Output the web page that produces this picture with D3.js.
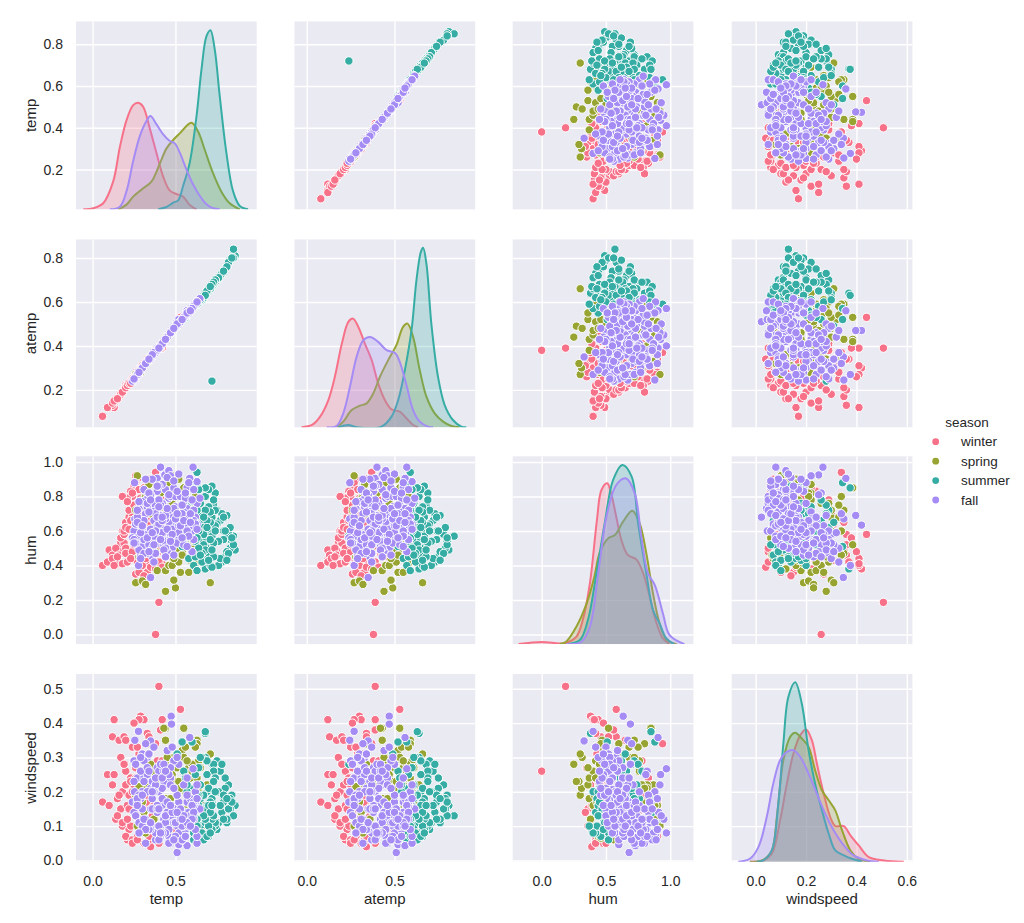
<!DOCTYPE html>
<html><head><meta charset="utf-8">
<script src="https://cdn.jsdelivr.net/npm/d3@7"></script>
<style>html,body{margin:0;padding:0;background:#fff}svg{display:block}text{font-family:"Liberation Sans",Arial,sans-serif;fill:#262626}</style>
</head><body><svg id="c" width="1024" height="923"></svg>
<script>
const seasons=["winter","spring","summer","fall"];
const seasonColors=["#f77189","#97a431","#36ada4","#a48cf4"];
const variables=["temp","atemp","hum","windspeed"];

// ---- scatter values
const winterTemp=[.38,.40,.06, .10,.13,.12,.15,.09,.16,.17,.12,.18,.14,.19,.16,.18,.20,.17,.13,.19,.15,.21,.20, .19,.20,.22,.24,.25,.26,.27,.23,.21,.18,.22,.26,.28,.24,.20,.25,.29,.23,.27,.30,.21,.26,.24,.28,.22, .29,.31,.28,.33,.36,.42,.53,.30,.27,.34,.25,.41, .24,.27,.30,.33,.28,.26,.31,.35,.38,.40,.43,.36,.29,.32,.42,.45,.34,.37,.25,.30,.41,.47,.28,.33,.39,.44,.23,.35,.27,.31, .38,.33,.36,.40,.44,.31,.35,.42,.46,.30,.37,.48,.41,.34,.39];
const winterAtemp=[.38,.39,.08, .12,.12,.13,.16,.12,.17,.18,.14,.19,.16,.20,.17,.19,.22,.18,.15,.20,.16,.22,.21, .20,.21,.23,.25,.26,.27,.28,.24,.22,.19,.23,.27,.29,.25,.21,.26,.30,.24,.28,.31,.22,.27,.25,.29,.23, .30,.31,.27,.34,.35,.39,.53,.31,.28,.34,.26,.39, .25,.28,.30,.33,.28,.26,.31,.34,.37,.39,.42,.35,.29,.32,.41,.44,.33,.36,.25,.30,.39,.46,.28,.33,.38,.43,.23,.34,.27,.31, .37,.33,.36,.39,.43,.32,.35,.41,.45,.31,.37,.47,.40,.34,.38];
const winterHum=[0,.186,.40, .49,.43,.46,.41,.42,.49,.53,.44,.41,.50,.53,.46,.60,.50,.56,.40,.58,.45,.42,.47, .60,.65,.68,.80,.86,.92,.90,.83,.79,.80,.72,.88,.84,.68,.62,.75,.79,.66,.73,.70,.77,.62,.82,.64,.61, .38,.40,.44,.42,.46,.41,.58,.43,.50,.52,.48,.56, .48,.42,.40,.36,.55,.35,.50,.39,.38,.42,.47,.58,.62,.44,.39,.52,.55,.60,.52,.58,.63,.45,.36,.64,.50,.56,.44,.65,.60,.34, .94,.80,.73,.66,.70,.85,.68,.78,.67,.74,.88,.72,.82,.90,.76];
const winterWind=[.26,.507,.17, .16,.41,.36,.18,.25,.35,.30,.22,.20,.12,.28,.19,.10,.26,.15,.25,.36,.13,.06,.22, .28,.35,.19,.20,.22,.13,.17,.24,.16,.11,.09,.16,.08,.33,.07,.14,.19,.10,.20,.30,.12,.24,.06,.31,.15, .42,.41,.41,.37,.34,.41,.44,.31,.33,.36,.40,.38, .05,.07,.09,.15,.12,.27,.05,.04,.22,.05,.18,.08,.11,.20,.16,.28,.06,.13,.22,.24,.07,.25,.10,.17,.29,.09,.23,.19,.06,.14, .34,.19,.13,.25,.18,.22,.08,.29,.14,.11,.16,.09,.21,.07,.27];

const springTemp=[.26,.30,.32,.44,.50,.49,.53,.71,.39,.44,.46,.48,.52,.61,.62,.58, .27,.34,.30,.36,.41,.44,.33,.38,.43,.37,.29,.35,.40,.31,.42,.45,.28,.39,.32,.34,.44,.26, .46,.48,.50,.52,.55,.57,.60,.62,.64,.58,.47,.51,.53,.56,.59,.61,.63,.65,.49,.54,.57,.60,.62,.50,.52,.55,.58,.60,.63,.66,.48,.53,.56,.59,.61,.64,.67,.51,.54,.57,.60,.63,.66,.69,.62];
const springAtemp=[.27,.30,.32,.44,.49,.48,.52,.66,.38,.43,.45,.47,.51,.57,.58,.55, .27,.33,.30,.35,.40,.43,.33,.37,.42,.36,.28,.34,.39,.31,.41,.44,.28,.38,.32,.34,.43,.26, .45,.47,.49,.51,.53,.55,.57,.58,.60,.55,.46,.50,.51,.54,.56,.58,.59,.61,.48,.52,.55,.57,.58,.49,.51,.53,.56,.57,.59,.62,.47,.52,.54,.56,.58,.60,.62,.50,.52,.55,.57,.59,.62,.64,.58];
const springHum=[.30,.31,.29,.25,.27,.315,.36,.30,.37,.37,.40,.40,.42,.42,.38,.36, .92,.87,.78,.76,.82,.85,.50,.48,.52,.62,.65,.70,.58,.55,.74,.68,.45,.90,.80,.60,.47,.72, .88,.92,.82,.90,.85,.78,.88,.80,.76,.74,.70,.66,.60,.55,.62,.68,.72,.58,.44,.48,.52,.45,.41,.56,.64,.72,.58,.50,.46,.60,.76,.80,.68,.43,.54,.66,.52,.50,.46,.60,.70,.42,.47,.55,.75];
const springWind=[.19,.21,.23,.28,.23,.30,.22,.31,.24,.18,.26,.16,.29,.20,.12,.27, .10,.22,.17,.26,.22,.385,.255,.21,.385,.12,.19,.28,.24,.14,.09,.30,.215,.16,.08,.34,.35,.13, .16,.25,.21,.14,.385,.22,.12,.34,.29,.10,.18,.13,.30,.20,.24,.17,.35,.27,.07,.32,.15,.28,.19,.06,.23,.30,.12,.26,.34,.16,.11,.21,.33,.17,.09,.20,.14,.27,.065,.29,.18,.24,.10,.22,.33];

const summerTemp=[.72, .86,.85,.84,.83,.82,.81,.80,.79,.78,.77,.76,.75,.85,.83,.81,.79,.77,.75,.82,.80,.78,.76,.84,.81,.79, .74,.73,.72,.71,.70,.69,.68,.67,.66,.65,.74,.73,.72,.71,.70,.69,.68,.67,.66,.65,.74,.72,.70,.68,.66,.73,.71,.69,.67,.65,.72,.70,.68,.66,.74,.71,.69,.67,.73,.70,.68,.72,.69,.71,.67, .63,.60,.68,.58,.56,.64,.61,.59,.63,.55,.53,.60,.62,.64,.57,.51,.58,.61,.63,.56,.60,.64,.62,.59,.57,.63,.54,.61,.65,.63];
const summerAtemp=[.24, .81,.84,.80,.79,.78,.76,.75,.74,.73,.72,.71,.70,.80,.79,.76,.74,.72,.70,.78,.75,.73,.71,.80,.76,.74, .69,.68,.67,.66,.65,.65,.64,.63,.62,.61,.70,.69,.67,.66,.66,.65,.64,.63,.61,.61,.69,.67,.66,.64,.62,.68,.66,.65,.63,.61,.67,.65,.64,.62,.70,.66,.65,.63,.69,.66,.64,.68,.65,.67,.62, .59,.57,.63,.55,.53,.60,.57,.56,.59,.52,.51,.57,.58,.60,.54,.49,.55,.57,.59,.53,.57,.60,.58,.56,.54,.59,.52,.57,.61,.59];
const summerHum=[.57, .49,.57,.54,.50,.58,.69,.45,.60,.42,.66,.40,.72,.52,.62,.48,.55,.44,.64,.47,.60,.70,.54,.56,.43,.68, .82,.75,.68,.60,.52,.44,.38,.48,.56,.64,.72,.78,.86,.40,.46,.50,.58,.62,.70,.54,.63,.57,.74,.80,.42,.45,.65,.55,.52,.76,.39,.84,.49,.47,.60,.71,.66,.58,.53,.43,.72,.49,.62,.55,.68, .94,.88,.85,.86,.80,.84,.77,.70,.72,.62,.55,.48,.54,.60,.58,.65,.44,.40,.37,.52,.62,.50,.45,.68,.74,.56,.51,.66,.46,.88];
const summerWind=[.28, .16,.13,.19,.15,.22,.11,.21,.17,.14,.26,.20,.29,.13,.18,.12,.19,.16,.09,.15,.24,.28,.11,.17,.18,.12, .10,.28,.17,.13,.08,.20,.37,.12,.15,.22,.11,.26,.18,.09,.07,.16,.30,.14,.19,.10,.24,.12,.21,.15,.08,.13,.17,.25,.06,.18,.09,.16,.11,.30,.20,.14,.07,.19,.23,.10,.12,.16,.29,.08,.13, .12,.345,.375,.14,.10,.19,.06,.21,.18,.26,.12,.09,.25,.16,.20,.31,.13,.08,.10,.24,.15,.27,.17,.11,.22,.19,.345,.13,.30,.07];

const fallTemp=[.474,.476,.277,.255,.51,.52,.57,.63,.41,.606,.39,.436,.46,.253,.35,.647,.63,.586,
.27,.33,.41,.48,.55,.30,.37,.44,.52,.60,.25,.35,.46,.58,
.29,.39,.50,.62,.32,.43,.54,.28,.36,.47,.57,.31,.40,.51,
.26,.34,.42,.49,.56,.61,.30,.38,.45,.53,.24,.33,.44,.59,
.28,.37,.48,.55,.35,.41,.52,.63,.29,.39,.46,.57,.32,.43,
.50,.27,.36,.47,.54,.60,.31,.40,.49,.34,.42,.56,.25,.38,
.45,.53,.30,.35,.44,.51,.58,.28,.41,.48,.33,.37,.55,.62,
.29,.43,.52,.39,.46,.32,.57,.26,.36,.50,.42,.34,.47,.59,
.31,.40,.54,.27,.45,.38,.49,.61,.33,.44,.56,.30,.37,.52,
.31,.36,.42,.47,.53,.58,.34,.40,.45,.51,.56,.61,.29,.38,.44,.49,.55,.60,.33,.41,.46,.52,.57,.62,.27,.35,.43,.48,.54,.59,.30,.39,.50,.56,.61,.25,.37,.45,.53,.58,.32,.42,.47,.55,.60,.28,.36,.44,.51,.57,.63,.34,.40,.49,.54,.59];
const fallAtemp=[.47,.47,.27,.245,.51,.52,.56,.60,.40,.57,.39,.43,.45,.245,.35,.615,.60,.56,
.27,.33,.40,.47,.53,.30,.36,.43,.50,.57,.25,.34,.45,.55,
.29,.38,.49,.59,.32,.42,.52,.28,.36,.46,.55,.31,.39,.49,
.26,.34,.41,.48,.54,.58,.30,.37,.44,.51,.24,.33,.43,.56,
.28,.37,.47,.53,.35,.40,.50,.60,.29,.38,.45,.55,.32,.42,
.49,.27,.36,.46,.52,.57,.31,.39,.48,.34,.41,.54,.25,.37,
.44,.51,.30,.35,.43,.49,.55,.28,.40,.47,.33,.37,.53,.59,
.29,.42,.50,.38,.45,.32,.55,.26,.36,.49,.41,.34,.46,.56,
.31,.39,.52,.27,.44,.37,.48,.58,.33,.43,.54,.30,.37,.50,
.31,.36,.41,.46,.51,.55,.34,.39,.44,.50,.54,.58,.29,.37,.43,.48,.53,.57,.33,.40,.45,.50,.55,.59,.27,.35,.42,.47,.52,.56,.30,.38,.49,.54,.58,.25,.37,.44,.51,.55,.32,.41,.46,.53,.57,.28,.36,.43,.50,.55,.60,.34,.39,.48,.52,.56];
const fallHum=[.634,.69,.40,.67,.68,.60,.73,.76,.97,.97,.905,.925,.95,.88,.33,.79,.886,.905,
.54,.58,.62,.68,.71,.48,.66,.74,.55,.65,.60,.50,.79,.69,
.52,.63,.72,.62,.70,.57,.60,.57,.45,.80,.85,.66,.53,.68,
.64,.82,.76,.60,.66,.72,.51,.74,.59,.64,.56,.47,.84,.57,
.73,.56,.50,.78,.61,.69,.81,.64,.46,.83,.65,.63,.78,.52,
.74,.68,.76,.58,.70,.60,.55,.64,.85,.52,.59,.62,.55,.70,
.48,.66,.62,.81,.67,.53,.69,.49,.75,.61,.74,.57,.77,.68,
.59,.54,.63,.68,.72,.83,.58,.53,.50,.80,.66,.71,.55,.63,
.47,.78,.70,.65,.61,.60,.73,.66,.56,.69,.64,.77,.52,.59,
.84,.90,.87,.92,.80,.88,.82,.86,.91,.83,.79,.84,.44,.47,.50,.46,.52,.48,.76,.55,.81,.93,.60,.64,.72,.78,.49,.58,.75,.70,.63,.86,.67,.82,.55,.53,.42,.73,.63,.57,.90,.68,.54,.66,.78,.77,.59,.45,.70,.51,.61,.48,.74,.89,.56,.65];
const fallWind=[.42,.397,.376,.35,.023,.046,.043,.05,.08,.267,.09,.25,.12,.20,.348,.15,.07,.358,
.24,.30,.10,.16,.22,.31,.09,.13,.28,.19,.14,.21,.07,.11,
.18,.27,.15,.20,.34,.12,.06,.08,.23,.05,.17,.24,.26,.10,
.13,.09,.16,.29,.14,.12,.20,.06,.32,.07,.17,.25,.11,.18,
.11,.21,.33,.08,.15,.28,.12,.22,.19,.14,.09,.24,.05,.26,
.13,.17,.10,.27,.07,.16,.23,.20,.06,.31,.18,.11,.29,.08,
.25,.12,.15,.09,.22,.30,.14,.19,.07,.13,.11,.20,.10,.17,
.26,.23,.08,.16,.05,.12,.19,.28,.15,.07,.21,.09,.24,.13,
.29,.10,.06,.18,.14,.22,.11,.16,.27,.08,.12,.10,.20,.17,
.12,.18,.08,.22,.15,.11,.26,.06,.14,.19,.09,.17,.30,.24,.13,.21,.10,.16,.20,.08,.25,.13,.12,.09,.16,.11,.28,.14,.10,.13,.19,.15,.11,.07,.14,.23,.33,.17,.12,.10,.09,.24,.16,.13,.12,.08,.20,.26,.14,.11,.18,.31,.15,.06,.12,.10];

// ---- density curves (arbitrary height units)
const kdeTempWinterX=[-.056,.004,.064,.124,.165,.205,.245,.275,.305,.345,.386,.426,.466,.506,.546,.586,.627];
const kdeTempWinterY=[0,.03,.18,.83,1.88,2.68,3.13,3.20,3.08,2.43,1.68,.98,.56,.46,.38,.13,0];
const kdeTempSpringX=[.155,.205,.245,.305,.355,.406,.446,.486,.526,.596,.637,.677,.727,.777,.827,.888];
const kdeTempSpringY=[0,.14,.38,.63,.83,1.38,1.83,2.08,2.28,2.60,2.33,1.78,1.08,.53,.18,0];
const kdeTempSummerX=[.396,.446,.486,.516,.546,.586,.627,.657,.687,.711,.737,.767,.807,.847,.888,.938];
const kdeTempSummerY=[0,.07,.2,.27,.7,1.4,2.8,4.2,5.2,5.38,4.8,3.4,1.7,.55,.1,0];
const kdeTempFallX=[.104,.165,.205,.245,.285,.325,.349,.386,.426,.466,.496,.526,.566,.606,.647,.687,.727,.767];
const kdeTempFallY=[0,.08,.55,1.45,2.2,2.65,2.80,2.55,2.25,2.05,1.98,1.70,1.2,.75,.4,.15,.03,0];

const kdeAtempWinterX=[-.03,.03,.076,.123,.16,.2,.237,.263,.294,.331,.37,.407,.445,.483,.53,.568,.606,.634];
const kdeAtempWinterY=[0,.07,.32,.82,1.52,2.52,3.17,3.27,3.02,2.52,2.02,1.32,.82,.54,.47,.27,.07,0];
const kdeAtempSpringX=[.17,.208,.256,.303,.341,.379,.417,.464,.511,.549,.574,.606,.644,.682,.729,.777,.824,.871];
const kdeAtempSpringY=[0,.17,.52,.65,.72,1.02,1.52,2.02,2.47,3.02,3.12,2.72,1.72,.92,.42,.17,.04,0];
const kdeAtempSummerX=[.18,.237,.284,.426,.483,.521,.559,.597,.625,.65,.663,.682,.71,.748,.786,.833,.881,.909];
const kdeAtempSummerY=[0,.07,0,.02,.32,.82,1.72,2.92,4.42,5.27,5.40,4.92,3.12,1.52,.67,.22,.02,0];
const kdeAtempFallX=[.114,.17,.208,.246,.284,.322,.36,.407,.455,.502,.53,.568,.606,.644,.691,.72];
const kdeAtempFallY=[0,.04,.42,1.22,2.12,2.62,2.72,2.57,2.32,2.24,1.97,1.27,.52,.17,.02,0];

const kdeHumWinterX=[-.18,0,.14,.19,.27,.32,.375,.43,.465,.51,.54,.58,.62,.67,.736,.79,.84,.89,.943,.995];
const kdeHumWinterY=[0,.06,.02,.04,.22,.72,1.82,3.72,4.62,4.82,4.52,3.82,3.12,2.67,2.54,2.12,1.42,.67,.17,0];
const kdeHumSpringX=[.14,.19,.27,.35,.41,.45,.517,.57,.633,.705,.762,.814,.866,.917,.97,1.05];
const kdeHumSpringY=[0,.07,.52,1.22,2.02,2.72,3.17,3.27,3.67,4.0,3.62,2.72,1.52,.62,.14,0];
const kdeHumSummerX=[.207,.297,.36,.426,.49,.556,.628,.70,.75,.814,.866,.917,.97,1.03];
const kdeHumSummerY=[0,.12,.72,2.12,3.62,4.92,5.37,5.02,3.62,2.12,1.02,.62,.17,0];
const kdeHumFallX=[.19,.31,.375,.44,.504,.58,.654,.724,.775,.827,.88,.943,.995,1.11];
const kdeHumFallY=[0,.07,.52,2.12,3.82,4.77,4.97,4.52,3.22,2.12,1.77,.92,.27,0];

const kdeWindWinterX=[-.023,.03,.064,.097,.124,.15,.177,.2,.223,.243,.27,.296,.316,.35,.376,.409,.449,.509,.588];
const kdeWindWinterY=[0,.04,.24,1.24,2.34,3.24,3.79,3.96,3.64,2.94,2.04,1.34,1.07,1.07,.79,.49,.14,.04,0];
const kdeWindSpringX=[-.023,.03,.064,.084,.11,.137,.157,.183,.21,.236,.263,.29,.316,.343,.376,.409,.455];
const kdeWindSpringY=[0,.06,.34,1.34,3.04,3.74,3.86,3.69,3.44,2.74,2.14,1.84,1.54,.94,.34,.09,0];
const kdeWindSummerX=[.004,.03,.064,.09,.11,.13,.157,.183,.21,.236,.263,.29,.316,.35,.382,.422];
const kdeWindSummerY=[0,.04,.34,1.74,3.54,4.94,5.37,4.74,3.34,2.34,1.54,.84,.34,.19,.09,0];
const kdeWindFallX=[-.069,-.023,.011,.044,.07,.097,.124,.15,.177,.21,.243,.276,.31,.35,.389,.442,.489];
const kdeWindFallY=[0,.09,.44,1.34,2.34,3.04,3.29,3.34,3.14,2.64,2.04,1.44,.94,.49,.19,.04,0];

// ---- tick labels
const xTickValues=[[0,.5],[0,.5],[0,.5,1],[0,.2,.4,.6]];
const yTickValues=[[.2,.4,.6,.8],[.2,.4,.6,.8],[0,.2,.4,.6,.8,1],[0,.1,.2,.3,.4,.5]];
// axis limits
const xDomains=[[-.1,.99],[-.07,.96],[-.225,1.18],[-.095,.622]];
const yDomains=[[.0096,.909],[.03,.884],[-.056,1.033],[-.004,.543]];
const kdeTops=[5.64,5.65,5.63,5.62];

const colLefts=[76,294.5,512.7,731.7], colWidth=180.7;
const rowTops=[21.5,239.5,456.3,674], rowHeight=187.8;

const scatter=[
 [winterTemp,winterAtemp,winterHum,winterWind],
 [springTemp,springAtemp,springHum,springWind],
 [summerTemp,summerAtemp,summerHum,summerWind],
 [fallTemp,fallAtemp,fallHum,fallWind]];
const kde=[
 [[kdeTempWinterX,kdeTempWinterY],[kdeTempSpringX,kdeTempSpringY],[kdeTempSummerX,kdeTempSummerY],[kdeTempFallX,kdeTempFallY]],
 [[kdeAtempWinterX,kdeAtempWinterY],[kdeAtempSpringX,kdeAtempSpringY],[kdeAtempSummerX,kdeAtempSummerY],[kdeAtempFallX,kdeAtempFallY]],
 [[kdeHumWinterX,kdeHumWinterY],[kdeHumSpringX,kdeHumSpringY],[kdeHumSummerX,kdeHumSummerY],[kdeHumFallX,kdeHumFallY]],
 [[kdeWindWinterX,kdeWindWinterY],[kdeWindSpringX,kdeWindSpringY],[kdeWindSummerX,kdeWindSummerY],[kdeWindFallX,kdeWindFallY]]];

const svg=d3.select("#c");
const defs=svg.append("defs");
const tickFont=14, labelFont=15;

variables.forEach((rowVar,r)=>{
  variables.forEach((colVar,c)=>{
    const x=d3.scaleLinear().domain(xDomains[c]).range([0,colWidth]);
    const y=d3.scaleLinear().domain(yDomains[r]).range([rowHeight,0]);
    const g=svg.append("g").attr("transform",`translate(${colLefts[c]},${rowTops[r]})`);
    g.append("rect").attr("width",colWidth).attr("height",rowHeight).attr("fill","#eaeaf2");
    const gx=g.append("g").attr("transform",`translate(0,${rowHeight})`)
      .call(d3.axisBottom(x).tickValues(xTickValues[c]).tickSize(-rowHeight).tickPadding(14).tickFormat(d3.format(".1f")));
    const gy=g.append("g")
      .call(d3.axisLeft(y).tickValues(yTickValues[r]).tickSize(-colWidth).tickPadding(13).tickFormat(d3.format(".1f")));
    [gx,gy].forEach(a=>{
      a.select(".domain").remove();
      a.selectAll("line").attr("stroke","#fff").attr("stroke-width",1.4);
      a.selectAll("text").style("font-size",tickFont+"px").style("font-family",'"Liberation Sans",Arial,sans-serif').attr("fill","#262626");
    });
    if(r!==3) gx.selectAll("text").remove();
    if(c!==0) gy.selectAll("text").remove();
    const id=`clip${r}${c}`;
    defs.append("clipPath").attr("id",id).append("rect").attr("width",colWidth).attr("height",rowHeight);
    const body=g.append("g").attr("clip-path",`url(#${id})`);
    if(r===c){
      const dy=d3.scaleLinear().domain([0,kdeTops[c]]).range([rowHeight,0]);
      seasons.forEach((s,i)=>{
        const [xs,ys]=kde[c][i];
        const pts=xs.map((v,k)=>[v,ys[k]]);
        body.append("path").datum(pts)
          .attr("d",d3.area().x(d=>x(d[0])).y0(rowHeight).y1(d=>dy(d[1])).curve(d3.curveCatmullRom))
          .attr("fill",seasonColors[i]).attr("fill-opacity",.25);
        body.append("path").datum(pts)
          .attr("d",d3.line().x(d=>x(d[0])).y(d=>dy(d[1])).curve(d3.curveCatmullRom))
          .attr("fill","none").attr("stroke",seasonColors[i]).attr("stroke-width",2);
      });
    } else {
      seasons.forEach((s,i)=>{
        const xv=scatter[i][c], yv=scatter[i][r];
        body.append("g").selectAll("circle").data(xv.map((v,k)=>[v,yv[k]])).join("circle")
          .attr("cx",d=>x(d[0])).attr("cy",d=>y(d[1])).attr("r",4.2)
          .attr("fill",seasonColors[i]).attr("stroke","#fff").attr("stroke-width",1);
      });
    }
  });
});

// axis labels
const axisLabels=["temp","atemp","hum","windspeed"];
axisLabels.forEach((t,c)=>{
  svg.append("text").attr("x",colLefts[c]+colWidth/2).attr("y",904).attr("text-anchor","middle").style("font-size",labelFont+"px").text(t);
  svg.append("text").attr("transform",`translate(36,${rowTops[c]+rowHeight/2}) rotate(-90)`).attr("text-anchor","middle").style("font-size",labelFont+"px").text(t);
});

// legend
const legendY=d3.scalePoint().domain(seasons).range([441.7,500]);
svg.append("text").attr("x",967).attr("y",427).attr("text-anchor","middle").style("font-size","13.5px").text("season");
seasons.forEach((s,i)=>{
  svg.append("circle").attr("cx",935.7).attr("cy",legendY(s)).attr("r",3.4).attr("fill",seasonColors[i]);
  svg.append("text").attr("x",961).attr("y",legendY(s)+4.6).style("font-size","13.5px").text(s);
});
</script></body></html>
